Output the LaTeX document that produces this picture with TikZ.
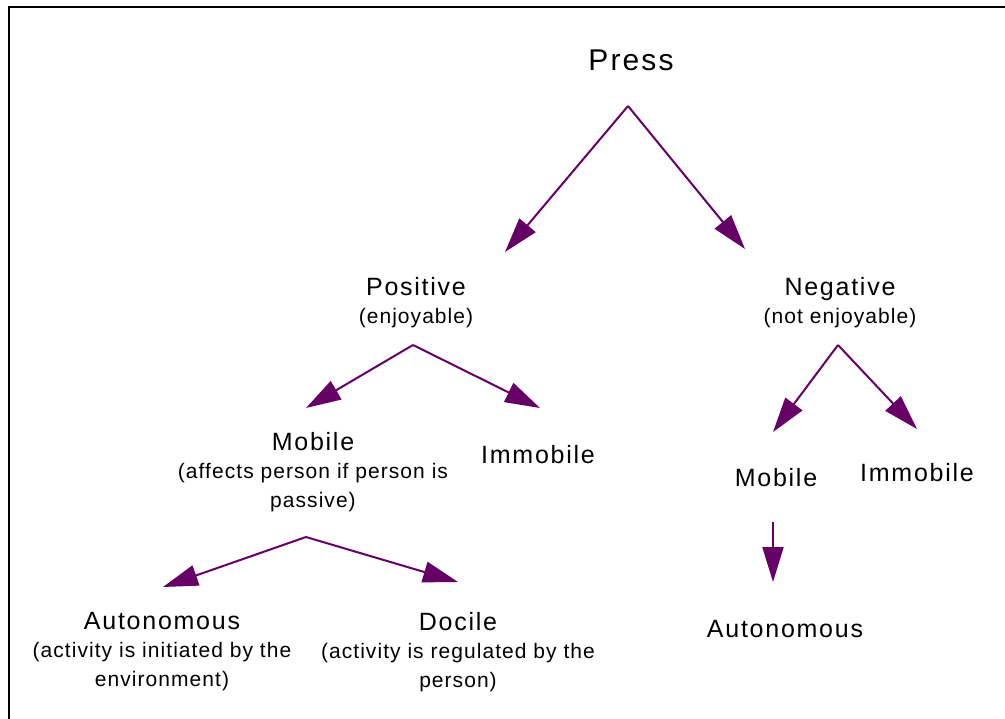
\documentclass[tikz,border=0pt]{standalone}
\usepackage{fontspec}
\setmainfont{Liberation Sans}
\newfontfamily\labelfont[LetterSpace=7]{Liberation Sans}
\newfontfamily\notefont[LetterSpace=5]{Liberation Sans}
\usetikzlibrary{arrows.meta}

\definecolor{pressarrow}{RGB}{102,0,102}
\newcommand{\note}[1]{{\notefont\fontsize{21}{28}\selectfont #1}}

\begin{document}
\begin{tikzpicture}[x=1pt,y=-1pt,inner sep=0pt,outer sep=0pt,anchor=north,align=center,
		font=\labelfont\fontsize{25}{28.5}\selectfont,
		link/.style={draw=pressarrow,line width=2pt,-{Triangle[length=35pt,width=21pt]}}]
		\useasboundingbox (0,0) rectangle (1005,719);
		\draw[line width=2pt] (9,719) -- (9,7) -- (1005,7);
		% labels
		\node (press) at (631,50) {\fontsize{30}{33}\selectfont Press};
		\node (positive) at (416,277) {Positive\\\note{(enjoyable)}};
		\node (negative) at (840,277) {Negative\\\note{(not enjoyable)}};
		\node (mobilepos) at (313,432) {Mobile\\\note{(affects person if person is}\\\note{passive)}};
		\node (immobilepos) at (538,445) {Immobile};
		\node (mobileneg) at (776,468) {Mobile};
		\node (immobileneg) at (917,463) {Immobile};
		\node (autonomous) at (162,612) {Autonomous\\\note{(activity is initiated by the}\\\note{environment)}};
		\node (docile) at (458,612) {Docile\\\note{(activity is regulated by the}\\\note{person)}};
		\node (autonomousneg) at (785,620) {Autonomous};
		% forks
		\coordinate (pressfork) at (628,106);
		\coordinate (posfork) at (413,345);
		\coordinate (negfork) at (838,345);
		\coordinate (mobilefork) at (306,537);
		\coordinate (mobilenegfork) at (773,522);
		\coordinate (topos) at (505,252);
		\coordinate (toneg) at (745,249);
		\coordinate (tomobilepos) at (306,408);
		\coordinate (toimmobilepos) at (540,408);
		\coordinate (tomobileneg) at (773,432);
		\coordinate (toimmobileneg) at (917,429);
		\coordinate (toautonomous) at (163,587);
		\coordinate (todocile) at (458,582);
		\coordinate (toautonomousneg) at (773,582);
		\draw[link] (pressfork) -- (topos);
		\draw[link] (pressfork) -- (toneg);
		\draw[link] (posfork) -- (tomobilepos);
		\draw[link] (posfork) -- (toimmobilepos);
		\draw[link] (negfork) -- (tomobileneg);
		\draw[link] (negfork) -- (toimmobileneg);
		\draw[link] (mobilefork) -- (toautonomous);
		\draw[link] (mobilefork) -- (todocile);
		\draw[link] (mobilenegfork) -- (toautonomousneg);
	\end{tikzpicture}
\end{document}
